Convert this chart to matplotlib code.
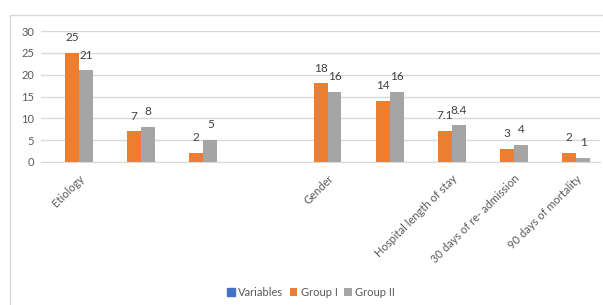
import matplotlib
matplotlib.use("Agg")
import matplotlib.pyplot as plt
import matplotlib.patches as mpatches
import numpy as np

plt.rcParams['font.family'] = ['Lato', 'DejaVu Sans']

categories = ['Etiology', '', '', '', 'Gender', '', 'Hospital length of stay',
              '30 days of re- admission', '90 days of mortality']
group1 = [25, 7, 2, np.nan, 18, 14, 7.1, 3, 2]
group2 = [21, 8, 5, np.nan, 16, 16, 8.4, 4, 1]
group1_labels = ['25', '7', '2', '', '18', '14', '7.1', '3', '2']
group2_labels = ['21', '8', '5', '', '16', '16', '8.4', '4', '1']

c_var = '#4472C4'
c_g1 = '#ED7D31'
c_g2 = '#A5A5A5'

W, H = 603, 305
fig = plt.figure(figsize=(W / 100, H / 100), dpi=100)

# outer chart border (cropped on right/bottom)
fig.patches.append(mpatches.Rectangle((9.5 / W, -0.1), 1.2, 1 - 15 / H + 0.1,
                                      transform=fig.transFigure, fill=False,
                                      edgecolor='#D9D9D9', lw=1))

ax = fig.add_axes([41 / W, 143 / H, (600 - 41) / W, (274 - 143) / H])

x = np.arange(len(categories))
bw = 0.225
b1 = ax.bar(x - bw / 2, group1, bw, color=c_g1, label='Group I')
b2 = ax.bar(x + bw / 2, group2, bw, color=c_g2, label='Group II')

for xi, v, t in zip(x, group1, group1_labels):
    if t:
        ax.annotate(t, (xi - bw / 2, v), xytext=(0, 11), textcoords='offset points',
                    ha='center', va='center', fontsize=8.5, color='#404040')
for xi, v, t in zip(x, group2, group2_labels):
    if t:
        ax.annotate(t, (xi + bw / 2, v), xytext=(0, 11), textcoords='offset points',
                    ha='center', va='center', fontsize=8.5, color='#404040')

ax.set_xlim(-0.612, 8.386)
ax.set_ylim(0, 30)
ax.set_yticks([0, 5, 10, 15, 20, 25, 30])
ax.yaxis.grid(True, color='#D9D9D9', lw=1)
ax.set_axisbelow(True)
for s in ['top', 'right', 'left']:
    ax.spines[s].set_visible(False)
ax.spines['bottom'].set_color('#D9D9D9')
ax.tick_params(axis='y', length=0, pad=5, labelsize=8, labelcolor='#595959')
ax.tick_params(axis='x', length=0, pad=8, labelsize=8, labelcolor='#595959')
ax.set_xticks(x)
ax.set_xticklabels(categories, rotation=45, ha='right', rotation_mode='anchor')

handles = [mpatches.Patch(color=c_var, label='Variables'), b1, b2]
fig.legend(handles=handles, loc='center', bbox_to_anchor=(311 / W, 1 - 292 / H),
           ncol=3, frameon=False, fontsize=8, handlelength=0.7, handleheight=0.7,
           handletextpad=0.3, columnspacing=0.6, labelcolor='#595959')

fig.savefig('out.png', dpi=100)
